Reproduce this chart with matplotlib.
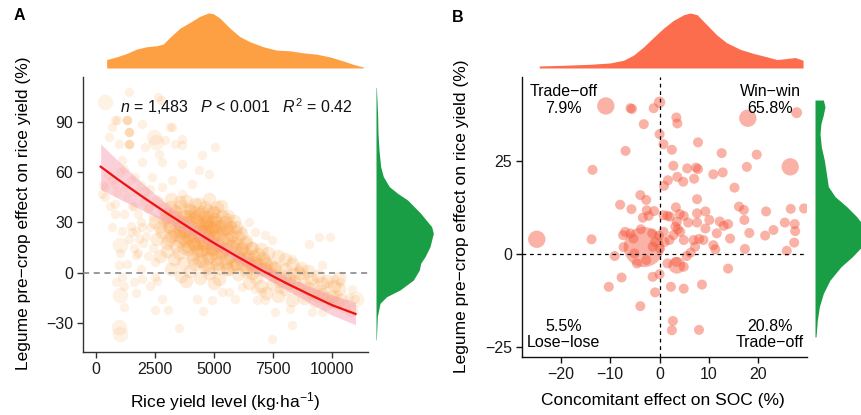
import numpy as np
import matplotlib
matplotlib.use('Agg')
import matplotlib.pyplot as plt

plt.rcParams['font.family'] = ['Liberation Sans', 'DejaVu Sans']
plt.rcParams['mathtext.fontset'] = 'custom'
plt.rcParams['mathtext.rm'] = 'Liberation Sans'
plt.rcParams['mathtext.it'] = 'Liberation Sans:italic'

# ---------------- Panel A data (rice yield level vs. legume effect) ----------------
a_left_x = [1384, 1313, 1313, 1313, 1384, 1384, 1384, 1384, 1384, 1384, 3150, 3644, 819, 1949, 2090, 2937,
            3362, 2655, 3644, 4491, 5041, 960, 678, 537, 1102, 1949, 2796, 1667, 3644, 4350, 4774, 3221, 2372,
            1243, 2090, 2797, 3644, 4067, 819, 395, 254, 819, 1525, 2231, 2640, 2750, 875, 3205]
a_left_y = [107.8, 90.9, 90.9, 90.9, 83.9, 83.9, 83.9, 76.9, 76.9, 76.9, 86.8, 79.8, 90.9, 88.9, 75, 79,
            77, 71, 75.9, 70, 75.1, 76.9, 86.8, 80.8, 67, 66, 66, 57, 65, 61, 59, 55, 57,
            51, 49, 51, 47, 53, 53, 51, 47, 41, 40, 39, 105, 103, 91, 86.7]
a_low_x = [678, 960, 1100, 1172, 1596, 1949, 2514, 2514, 2797, 2514, 3051, 3503, 4280, 4520, 4915, 847,
           1680, 1822, 1960, 1540]
a_low_y = [27.3, 4.4, -2.6, -20.5, -5.6, -3.6, -2.6, 6.4, -15.5, -22.4, -22.4, -33, -15.9, -22.8, -16.5, -5.6,
           10.3, 20.2, 27.3, 24.3]
a_mid_x = [1500, 1700, 1900, 2100, 2300, 1600, 1800, 2000, 2200, 2400, 1500, 1700, 1900, 2100, 2300,
           1600, 1800, 2000, 2200, 2400, 1400, 1200, 1300, 1100, 1000, 1200, 900, 700, 500, 300,
           400, 600, 800, 1000, 1300, 1900, 2600, 2300, 1700, 1200]
a_mid_y = [55, 48, 52, 45, 50, 40, 35, 42, 38, 33, 28, 25, 30, 22, 27, 15, 12, 18, 10, 15, 20, 35, 45, 25, 60,
           62, 48, 55, 58, 52, 45, 40, 35, 12, 5, 2, -5, -8, -12, -8]
a_right_x = [9436, 9929, 9012, 7458, 8305, 7599, 8234, 9153, 9577, 10212, 10706, 10988, 10847, 9577, 10071,
             10353, 7458, 7176, 6752, 6187, 5763, 6470, 8305, 8588, 8870, 9294, 9859, 8164, 7740, 7034,
             6752, 6187, 5904, 6822, 7176, 5622, 5339]
a_right_y = [21.3, 21.3, 17.3, -39.3, -31.4, -23.4, -21.4, -23.4, -23.4, -12.5, -14.5, -15.5, -9.5, 4.4, -3.6,
             -5.6, 19.3, 22.3, 24.3, 25.3, 28.3, 30.3, 8.4, 2.4, -1.6, -5.6, -7.5, -7.5, -9.5, -11.5,
             -9.5, -8.5, -15.5, -16.5, -16.5, -11.5, -11.5]
a_big_x = [395, 2443, 1031, 1031, 960, 1031, 11014, 2550]
a_big_y = [101.8, 80.8, 16.3, -13.5, -32.4, -36.4, -15.7, 78]
a_core_x = [2600, 2900, 3200, 3400, 3600, 3800, 4000, 4200, 4400, 4600, 4800, 5000, 5300, 5600, 3000, 3500,
            2500, 2700, 2900, 3100, 3300, 3500, 3700, 3900, 4100, 4300, 4500, 4700, 4900, 5100, 5300, 5500,
            5700, 5900, 4400, 4600, 4800, 5000,
            2600, 2800, 3000, 3200, 3400, 3600, 3800, 4000, 4200, 4400, 4600, 4800, 5000, 5200, 5400, 5600,
            5800, 6000, 6200, 4300, 4700, 4900, 5100, 3900,
            2700, 3000, 3300, 3500, 3700, 3900, 4100, 4300, 4500, 4700, 4900, 5100, 5300, 5500, 5700, 5900,
            6100, 6300, 6500, 6700, 6900, 7100, 4200, 4600, 5200,
            3200, 3600, 4000, 4400, 4800, 5200, 5600, 6000, 6400, 6800, 7200, 7600, 8000, 8400, 5800, 6600,
            7400, 7800, 8200, 8600, 3800, 5000,
            6500, 7000, 7500, 8000, 8500, 9000, 9500, 10000, 10300, 8800, 9300, 9800, 10500, 7200, 7700, 8300,
            10800, 9600, 9100, 10100]
a_core_y = [42, 38, 44, 36, 40, 43, 37, 41, 35, 39, 44, 36, 40, 34, 33, 31,
            30, 27, 32, 28, 33, 26, 30, 34, 27, 31, 29, 33, 26, 30, 28, 32,
            27, 25, 26, 31, 28, 32,
            20, 24, 18, 22, 16, 24, 19, 23, 17, 21, 25, 18, 22, 16, 20, 24,
            18, 21, 15, 24, 21, 15, 25, 21,
            10, 13, 8, 12, 6, 14, 9, 13, 7, 11, 14, 8, 12, 6, 10, 14,
            8, 12, 6, 10, 5, 9, 5, 4, 3,
            2, -2, 1, -3, 0, -4, 2, -1, 3, -3, 1, -2, 2, -1, 4, 0,
            4, -5, -4, 0, -5, -6,
            -6, -8, -7, -10, -9, -12, -11, -14, -10, -15, -17, -18, -20, -12, -14, -16,
            -22, -6, -4, -8]
a_dense_x = [3600, 3800, 4000, 4200, 4400, 4600, 4800, 5000, 5200, 5400, 3700, 3900, 4100, 4300, 4500, 4700,
             4900, 5100, 5300, 5500, 4000, 4500, 4200, 4700, 4900, 3500, 3300, 3100, 4600, 5600,
             6000, 6200, 6400, 6600, 6800, 7000, 7200, 7400, 7600, 7800, 8000, 8200, 8400, 8600, 8800, 9000,
             9200, 9400, 9600, 9800, 10000, 10200, 10400,
             6300, 6600, 7000, 7300, 7700, 8000, 8300, 8700, 9000, 9400, 9800, 10300,
             3150, 3550, 3950, 4350, 4750, 5150,
             2950, 3350, 3750, 4150, 4550, 4950, 5350,
             3050, 3450, 3850, 4250, 4650, 5050, 5450, 5850,
             3150, 3550, 3950, 4350, 4750, 5150, 5550, 5950,
             3350, 3750, 4150, 4550, 4950, 5350, 5750, 6150,
             3550, 3950, 4350, 4750, 5150, 5550, 5950, 6350,
             3750, 4150, 4550, 4950, 5350, 5750, 6150, 6550,
             4050, 4450, 4850, 5250, 5650, 6050, 6450, 6850,
             4350, 4750, 5150, 5550, 5950, 6350, 6750, 7150,
             4750, 5150, 5550, 5950, 6350, 6750, 7150, 7550]
a_dense_y = [28, 25, 30, 26, 22, 27, 23, 27, 23, 26, 20, 16, 19, 15, 18, 14,
             19, 12, 17, 14, 34, 36, 33, 30, 30, 22, 25, 20, 17, 17,
             10, 5, 8, 4, 7, 2, 5, -1, 3, -3, -2, -6, -5, -9, -7, -9,
             -12, -14, -13, -15, -17, -18, -16,
             18, 15, 14, 12, 10, 8, 5, 3, 1, -2, -5, -3,
             39, 42, 38, 41, 37, 39,
             35, 37, 34, 36, 33, 36, 34,
             31, 33, 30, 33, 29, 32, 30, 31,
             27, 29, 26, 29, 25, 28, 26, 27,
             23, 25, 22, 25, 21, 24, 22, 23,
             19, 21, 18, 21, 17, 20, 18, 19,
             15, 17, 14, 17, 13, 16, 14, 15,
             11, 13, 10, 13, 9, 12, 10, 11,
             7, 9, 6, 9, 5, 8, 6, 7,
             3, 5, 2, 5, 1, 4, 2, 3]

fit_x = [200, 1000, 2000, 3000, 4000, 5000, 6000, 7000, 8000, 9000, 10000, 11000]
fit_y = [63.2, 54.9, 45.0, 35.5, 26.4, 17.7, 9.5, 1.6, -5.8, -12.7, -19.3, -24.6]
fit_lo = [49.7, 43.9, 37.0, 30.0, 22.6, 14.7, 6.5, -1.7, -9.8, -17.7, -25.3, -31.0]
fit_hi = [76.7, 65.9, 53.0, 41.0, 30.2, 20.7, 12.5, 4.9, -1.8, -7.7, -13.3, -17.5]

topA_x = [452, 875, 1300, 1720, 2150, 2570, 2850, 3135, 3560, 3980, 4400, 4760, 4970, 5250, 5680, 6100,
          6520, 7090, 7650, 8220, 8780, 9350, 9910, 10480, 10900, 11325]
topA_h = [25, 33, 43, 56, 63, 66, 71, 91, 118, 135, 153, 163, 161, 148, 118, 93, 78, 63, 53, 51, 45, 41,
          33, 21, 11, 3]
rightA_y = [110.5, 103.0, 93.0, 83.1, 73.2, 63.2, 57.3, 51.3, 47.3, 43.3, 35.4, 27.4, 23.5, 15.5, 9.5, 5.6,
            1.6, -4.4, -10.3, -14.3, -18.3, -26.2, -36.2, -40.2]
rightA_w = [1, 3, 5, 6, 9, 14, 22, 40, 65, 95, 134, 167, 172, 162, 147, 134, 130, 112, 72, 32, 12, 4, 2, 1]

# ---------------- Panel B data (SOC effect vs. yield effect) ----------------
soc = [-24.9, -10.9, -5.9, -5.6, -1.2, 0.0, -3.2, 3.4, 3.6, 0.0, 0.8, 2.5, 7.8, -6.9, 12.6, 19.7, 17.9, 27.8,
       26.5, -13.6, 2.8, 5.6, 7.4, 7.8, 3.6, 4.8, 1.7, 0.9, 7.0, 10.9, 12.8, 17.7, 15.2, -3.9, -2.7, -8.0,
       -5.7, 3.3, 7.6, 16.1, 17.1, 21.6, 26.6, 29.3, -2.6, -3.4, -2.2, -1.1, 0.8, 1.6, 4.1, 4.9, 7.6, 9.3,
       7.6, 10.1, 12.2, 13.0, 13.9, 17.2, 25.4, 27.4, 23.1, 18.2, 21.4, 27.5, 27.3, 25.8, 17.3, 14.3, 11.6,
       10.9, 11.3, 9.3, 5.8, 3.5, 3.7, 4.2, 2.8, 4.9, 6.9, 8.0, 7.2, 0.8, 1.0, 0.1, -0.9, -1.4, -0.1, -1.5,
       -3.2, -5.9, -5.3, -7.0, -7.4, -3.8, -7.3, -9.1, -13.8, -4.6, -2.7, 3.5, 1.6, 3.4, 4.9, 0.0, -1.4,
       -7.7, -10.3, -0.9, 2.3, 4.9, 8.6, 13.9, -3.9, 2.7, 2.5, 8.0, 5.5, 6.3, 2.1, 3.2, 8.9, 2.0, -5.1]
yld = [3.9, 39.8, 39.2, 39.0, 39.2, 40.8, 34.9, 36.7, 35.1, 32.2, 29.5, 28.0, 30.0, 27.7, 27.1, 26.7, 36.5, 38.0,
       23.4, 22.6, 23.7, 23.0, 23.2, 22.8, 20.7, 19.4, 19.8, 18.3, 20.2, 21.4, 21.9, 23.4, 17.8, 15.8, 14.5, 13.2,
       12.0, 12.5, 14.7, 12.7, 11.8, 11.4, 12.1, 12.2, 11.7, 9.7, 10.2, 11.5, 10.4, 10.2, 10.7, 10.2, 10.9, 11.4,
       8.4, 9.1, 8.7, 7.5, 8.0, 9.1, 8.4, 8.0, 6.4, 5.6, 4.9, 6.1, 3.0, 0.8, 1.3, 4.1, 5.5,
       2.3, 1.2, 6.8, 8.4, 8.6, 6.6, 5.9, 5.0, 3.7, 3.7, 4.0, 1.9, 5.9, 3.2, 1.4, 3.2, 1.9, 4.9, 5.5,
       1.8, 5.5, 4.1, 5.9, 5.0, 6.6, 1.8, -0.6, 3.9, -2.6, -1.7, -3.1, -2.6, -2.2, -3.5, -5.5, -6.2,
       -6.4, -8.9, -10.4, -8.9, -9.4, -8.3, -4.0, -14.1, -18.1, -20.6, -20.5, -0.6, 0.3, 10.0, 7.3, 3.7, 3.7, 0.1]
weight = [3, 3, 1, 1, 1, 1.3, 1, 1, 1, 1, 1, 1, 1, 1, 1, 1, 3, 1.2,
          3, 1, 1, 1, 1, 1, 1, 1, 1, 1, 1, 1, 1, 1, 1, 1, 1, 1,
          1, 1, 1, 1, 1, 1, 1, 1, 1, 1, 1, 1, 1, 1, 1, 1, 1, 1,
          1, 1, 1, 1, 1, 1, 1, 1, 1, 1, 1, 1, 1, 1, 1, 1, 1,
          1, 1, 1, 1, 1, 1, 1, 1, 1, 1, 1, 1, 1, 1, 1, 1, 1, 1, 1,
          16, 1, 1, 1, 1, 1, 1, 1, 1, 1, 1, 2.8, 1, 1, 1, 1, 1,
          1, 1, 1, 1, 1, 1, 1, 1, 1, 1, 1, 1, 1, 1, 1, 1, 1, 1]

topB_x = [-24.4, -19.5, -14.1, -10.0, -7.3, -5.3, -3.2, -1.2, 0.8, 2.8, 4.9, 6.2, 7.6, 9.6, 11.6, 13.6, 16.4,
          19.1, 21.8, 23.8, 25.8, 27.5, 29.1]
topB_h = [6, 8, 11, 15, 23, 38, 63, 91, 118, 141, 158, 163, 158, 128, 98, 75, 55, 43, 33, 25, 28, 31, 23]
rightB_y = [41.4, 39.6, 37.4, 35.1, 32.4, 28.8, 25.2, 21.7, 18.1, 15.4, 12.7, 10.0, 7.3, 5.0, 2.8, -0.8, -3.5,
            -7.1, -10.7, -14.3, -17.9, -22.4]
rightB_w = [25, 30, 25, 18, 15, 19, 28, 34, 40, 60, 95, 125, 148, 160, 150, 112, 78, 45, 25, 13, 7, 3]

# ---------------- Figure ----------------
W, H = 862, 415
fig = plt.figure(figsize=(W / 100, H / 100), dpi=100)


def add_ax(l, t, r, b):
    return fig.add_axes([l / W, 1 - b / H, (r - l) / W, (b - t) / H])


ORANGE = '#FB9B3D'
TOP_ORANGE = '#FDA044'
GREEN = '#1A9E45'
TOMATO = '#F4553A'
TOP_TOMATO = '#FC6D4E'
AXC = '#333333'


def style_axes(ax, col):
    for s in ['top', 'right']:
        ax.spines[s].set_visible(False)
    for s in ['left', 'bottom']:
        ax.spines[s].set_color(col)
        ax.spines[s].set_linewidth(1.0)
    ax.tick_params(direction='out', length=4, width=1, color=col, labelsize=11.5,
                   labelcolor='#1a1a1a', pad=3)


# Panel A main
axA = add_ax(83, 77, 368, 352)
sparse_x = a_left_x + a_low_x + a_mid_x + a_right_x
sparse_y = a_left_y + a_low_y + a_mid_y + a_right_y
axA.scatter(sparse_x, sparse_y, s=45, color=ORANGE, alpha=0.15, lw=0, zorder=2)
axA.scatter(a_core_x + a_dense_x, a_core_y + a_dense_y, s=95, color=ORANGE, alpha=0.2, lw=0, zorder=2)
axA.scatter(a_big_x, a_big_y, s=125, color=ORANGE, alpha=0.13, lw=0, zorder=2)
axA.axhline(0, color='#7F7F7F', lw=1.1, ls=(0, (4, 3)), zorder=3)
axA.fill_between(fit_x, fit_lo, fit_hi, color='#F7A3B8', alpha=0.5, lw=0, zorder=4)
axA.plot(fit_x, fit_y, color='#EE1111', lw=1.6, zorder=5)
axA.set_xlim(-550, 11530)
axA.set_ylim(-47.3, 116.7)
axA.set_xticks([0, 2500, 5000, 7500, 10000])
axA.set_yticks([-30, 0, 30, 60, 90])
style_axes(axA, AXC)
axA.text(1017, 98.8, r"$n$ = 1,483   $P$ < 0.001   $R^2$ = 0.42", fontsize=11.5, ha='left', va='center',
         color='#111111')

axAt = add_ax(83, 13, 368, 68)
axAt.fill_between(topA_x, 0, topA_h, color=TOP_ORANGE, lw=0)
axAt.set_xlim(axA.get_xlim())
axAt.set_ylim(0, 163)
axAt.axis('off')

axAr = add_ax(376, 77, 436, 352)
axAr.fill_betweenx(rightA_y, 0, rightA_w, color=GREEN, lw=0)
axAr.set_ylim(axA.get_ylim())
axAr.set_xlim(0, 180)
axAr.axis('off')

# Panel B main
axB = add_ax(522, 77, 807, 357)
sizes = [52 * w for w in weight]
axB.scatter(soc, yld, s=sizes, color=TOMATO, alpha=0.45, lw=0, zorder=2)
axB.axhline(0, color='black', lw=0.9, ls=(0, (3, 3)), zorder=3)
axB.axvline(0, color='black', lw=0.9, ls=(0, (3, 3)), zorder=3)
axB.set_xlim(-27.9, 29.9)
axB.set_ylim(-27.8, 47.6)
axB.set_xticks([-20, -10, 0, 10, 20])
axB.set_yticks([-25, 0, 25])
style_axes(axB, '#111111')
qfs = 11.5
axB.text(-19.5, 41.4, "Trade\u2212off\n7.9%", ha='center', va='center', fontsize=qfs, linespacing=1.1)
axB.text(22.4, 41.4, "Win\u2212win\n65.8%", ha='center', va='center', fontsize=qfs, linespacing=1.1)
axB.text(-19.5, -21.7, "5.5%\nLose\u2212lose", ha='center', va='center', fontsize=qfs, linespacing=1.1)
axB.text(22.4, -21.7, "20.8%\nTrade\u2212off", ha='center', va='center', fontsize=qfs, linespacing=1.1)

axBt = add_ax(522, 13, 807, 68)
axBt.fill_between(topB_x, 0, topB_h, color=TOP_TOMATO, lw=0)
axBt.set_xlim(axB.get_xlim())
axBt.set_ylim(0, 163)
axBt.axis('off')

axBr = add_ax(815, 77, 875, 357)
axBr.fill_betweenx(rightB_y, 0, rightB_w, color=GREEN, lw=0)
axBr.set_ylim(axB.get_ylim())
axBr.set_xlim(0, 180)
axBr.axis('off')

# Labels
fig.text(19 / W, 1 - 16 / H, "A", fontsize=11.5, fontweight='bold', ha='center', va='center')
fig.text(458 / W, 1 - 17 / H, "B", fontsize=11.5, fontweight='bold', ha='center', va='center')
fig.text(24 / W, 1 - 213 / H, "Legume pre\u2212crop effect on rice yield (%)", rotation=90,
         fontsize=12.5, ha='center', va='center')
fig.text(225 / W, 1 - 402 / H, r"Rice yield level (kg$\cdot$ha$^{\mathregular{-1}}$)",
         fontsize=12.5, ha='center', va='center')
fig.text(462 / W, 1 - 216 / H, "Legume pre\u2212crop effect on rice yield (%)", rotation=90,
         fontsize=12.5, ha='center', va='center')
fig.text(663 / W, 1 - 400 / H, "Concomitant effect on SOC (%)", fontsize=12.5, ha='center', va='center')

fig.savefig('out.png', dpi=100)
